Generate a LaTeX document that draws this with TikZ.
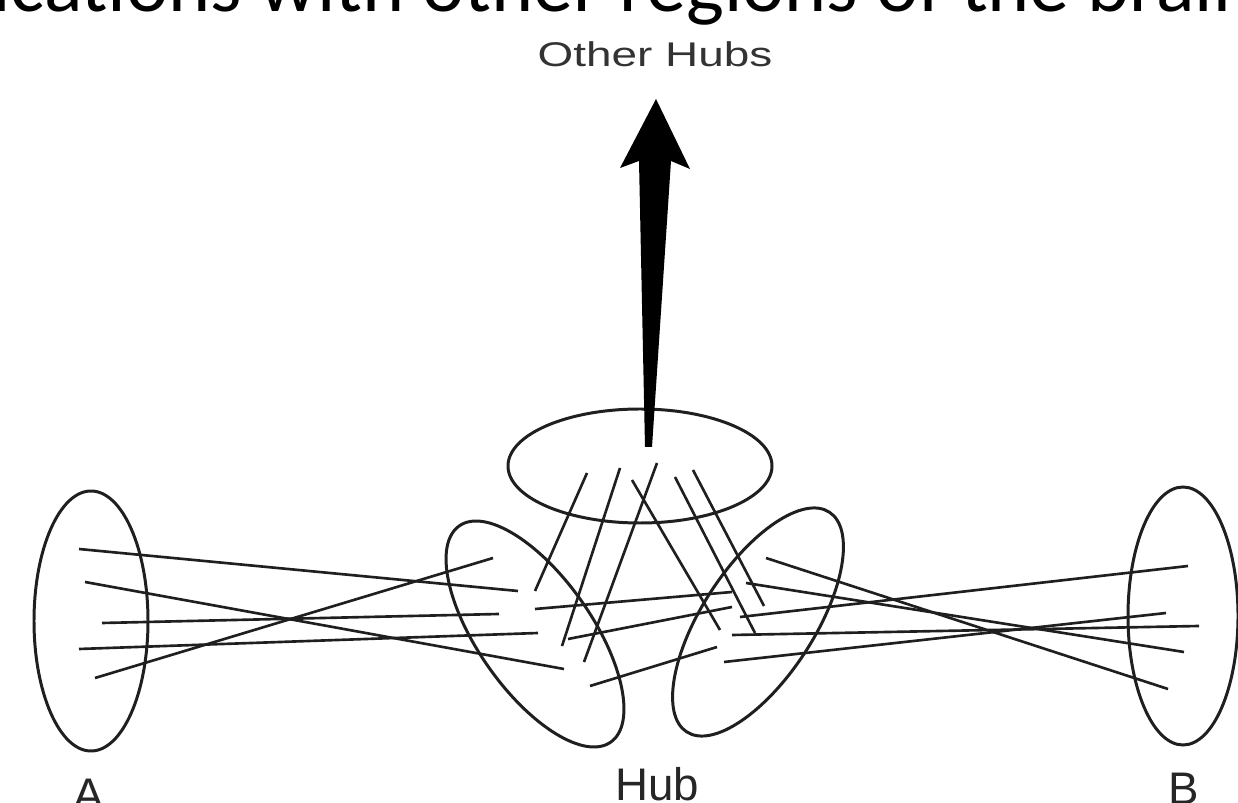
\documentclass[tikz,border=0pt]{standalone}
\usepackage{fontspec}
\setmainfont{Liberation Sans}
\newfontfamily\slidefont{Carlito}
\usepackage{tikz}

\begin{document}
\begin{tikzpicture}[x=0.02cm, y=-0.02cm,
	fiber/.style={line width=1.5pt, black!88},
	region/.style={line width=1.7pt, black!88},
	lbl/.style={inner sep=0pt, font=\fontsize{26}{26}\selectfont, black!85}]
						\useasboundingbox (0,0) rectangle (1238,803);
						\clip (0,0) rectangle (1238,803);
						\node[anchor=base west, inner sep=0pt, font=\slidefont\fontsize{45.6}{46}\selectfont] (title) at (-50,12) {nications with other regions of the brain};
						\node[inner sep=0pt, font=\fontsize{19.5}{20}\selectfont, black!80] (other) at (655,54) {\scalebox{1.34}[1]{Other Hubs}};
						\draw[region] (91,621) ellipse [x radius=57, y radius=130];
						\draw[region] (1183,616) ellipse [x radius=55, y radius=129];
						\draw[region] (640,466) ellipse [x radius=132, y radius=57];
						\draw[region, shift={(535,634)}, rotate=-55] (0,0) ellipse [x radius=132, y radius=57];
						\draw[region, shift={(758,622)}, rotate=57] (0,0) ellipse [x radius=131, y radius=56];
						\fill[black] (656,99) -- (690,169) -- (671,161) -- (652,447) -- (645,447) -- (639,161) -- (620,168) -- cycle;
						\draw[fiber] (79,549) -- (518,591);
						\draw[fiber] (85,582) -- (564,669);
						\draw[fiber] (102,623) -- (499,614);
						\draw[fiber] (79,649) -- (538,633);
						\draw[fiber] (95,678) -- (493,558);
						\draw[fiber] (587,473) -- (535,591);
						\draw[fiber] (620,468) -- (562,646);
						\draw[fiber] (657,463) -- (584,662);
						\draw[fiber] (632,480) -- (720,630);
						\draw[fiber] (675,477) -- (755,633);
						\draw[fiber] (693,470) -- (764,606);
						\draw[fiber] (535,609) -- (732,592);
						\draw[fiber] (568,639) -- (732,607);
						\draw[fiber] (590,686) -- (717,647);
						\draw[fiber] (766,558) -- (1168,689);
						\draw[fiber] (746,583) -- (1184,652);
						\draw[fiber] (740,617) -- (1188,566);
						\draw[fiber] (732,635) -- (1199,626);
						\draw[fiber] (724,662) -- (1166,613);
						\node[lbl, anchor=base] (labA) at (89,810) {A};
						\node[lbl, anchor=base] (labHub) at (657,800) {Hub};
						\node[lbl, anchor=base] (labB) at (1184,805) {B};
					\end{tikzpicture}
\end{document}
